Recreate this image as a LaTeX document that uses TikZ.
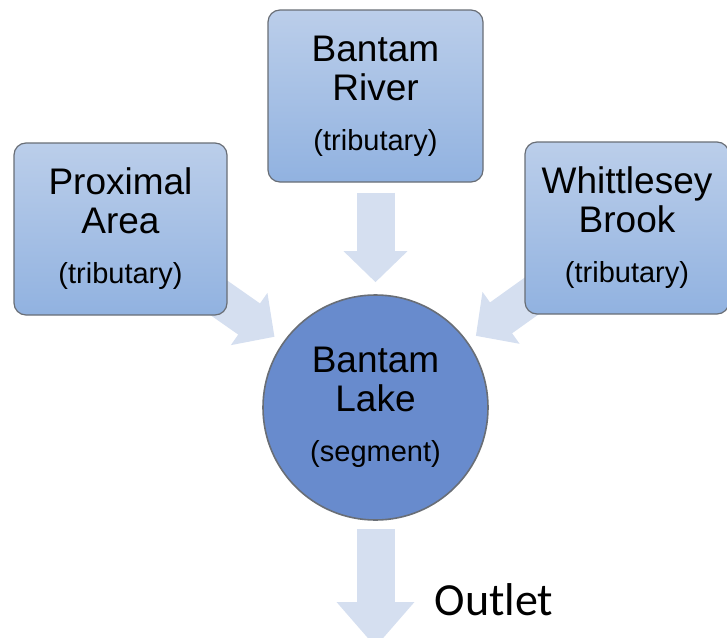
\documentclass[tikz,border=0pt]{standalone}
\usepackage{fontspec}
\setmainfont{Liberation Sans}
\newfontfamily\calibrifont{Carlito}
\usetikzlibrary{arrows.meta,backgrounds}
\definecolor{boxtop}{RGB}{187,206,234}
\definecolor{boxbot}{RGB}{145,178,224}
\definecolor{boxedge}{RGB}{105,110,118}
\definecolor{lakefill}{RGB}{104,139,205}
\definecolor{flowblue}{RGB}{213,223,240}
\newcommand{\kind}[1]{{\fontsize{14.5}{17}\selectfont #1}}

\begin{document}
\begin{tikzpicture}[x=0.5pt, y=-0.5pt,
  trib/.style={draw=boxedge, line width=0.6pt, rounded corners=6pt,
               top color=boxtop, bottom color=boxbot, align=center,
               minimum height=86pt, inner sep=0pt,
               font=\fontsize{18.5}{19.5}\selectfont,
               execute at begin node={\rule{0pt}{17pt}}},
  seg/.style={circle, draw=boxedge, line width=0.8pt, fill=lakefill,
              align=center, minimum size=112.5pt, inner sep=0pt,
              font=\fontsize{18.5}{19.5}\selectfont,
              execute at begin node={\rule{0pt}{17.5pt}}},
  flow/.style={line width=19pt, draw=flowblue,
               -{Triangle[width=31pt, length=15.5pt]}},
  bigflow/.style={flow, -{Triangle[width=37.5pt, length=22.5pt]}}
]
  \useasboundingbox (0,0) rectangle (727,637);

  % Tributaries
  \node[trib, minimum width=106.5pt] (prox)  at (120.5,229)
    {Proximal\\Area\\[5.5pt]\kind{(tributary)}};
  \node[trib, minimum width=107.5pt] (river) at (375.5,96)
    {Bantam\\River\\[5.5pt]\kind{(tributary)}};
  \node[trib, minimum width=102pt]   (whit)  at (627,228)
    {Whittlesey\\Brook\\[5.5pt]\kind{(tributary)}};
  % Segment
  \node[seg] (lake) at (375.5,407.5)
    {Bantam\\Lake\\[5.5pt]\kind{(segment)}};
  % Outlet
  \coordinate (sink) at (375.5,647);
  \node[font=\calibrifont\fontsize{23}{27}\selectfont] (outlet) at (494,600) {Outlet};

  % Flows
  \begin{scope}[on background layer]
    \draw[flow, shorten <=5pt, shorten >=6pt] (river) -- (lake);
    \draw[flow, shorten <=-20pt, shorten >=5pt] (prox) -- (lake);
    \draw[flow, shorten <=-20pt, shorten >=5pt] (whit) -- (lake);
    \draw[bigflow, shorten <=4pt] (lake) -- (sink);
  \end{scope}
\end{tikzpicture}
\end{document}
